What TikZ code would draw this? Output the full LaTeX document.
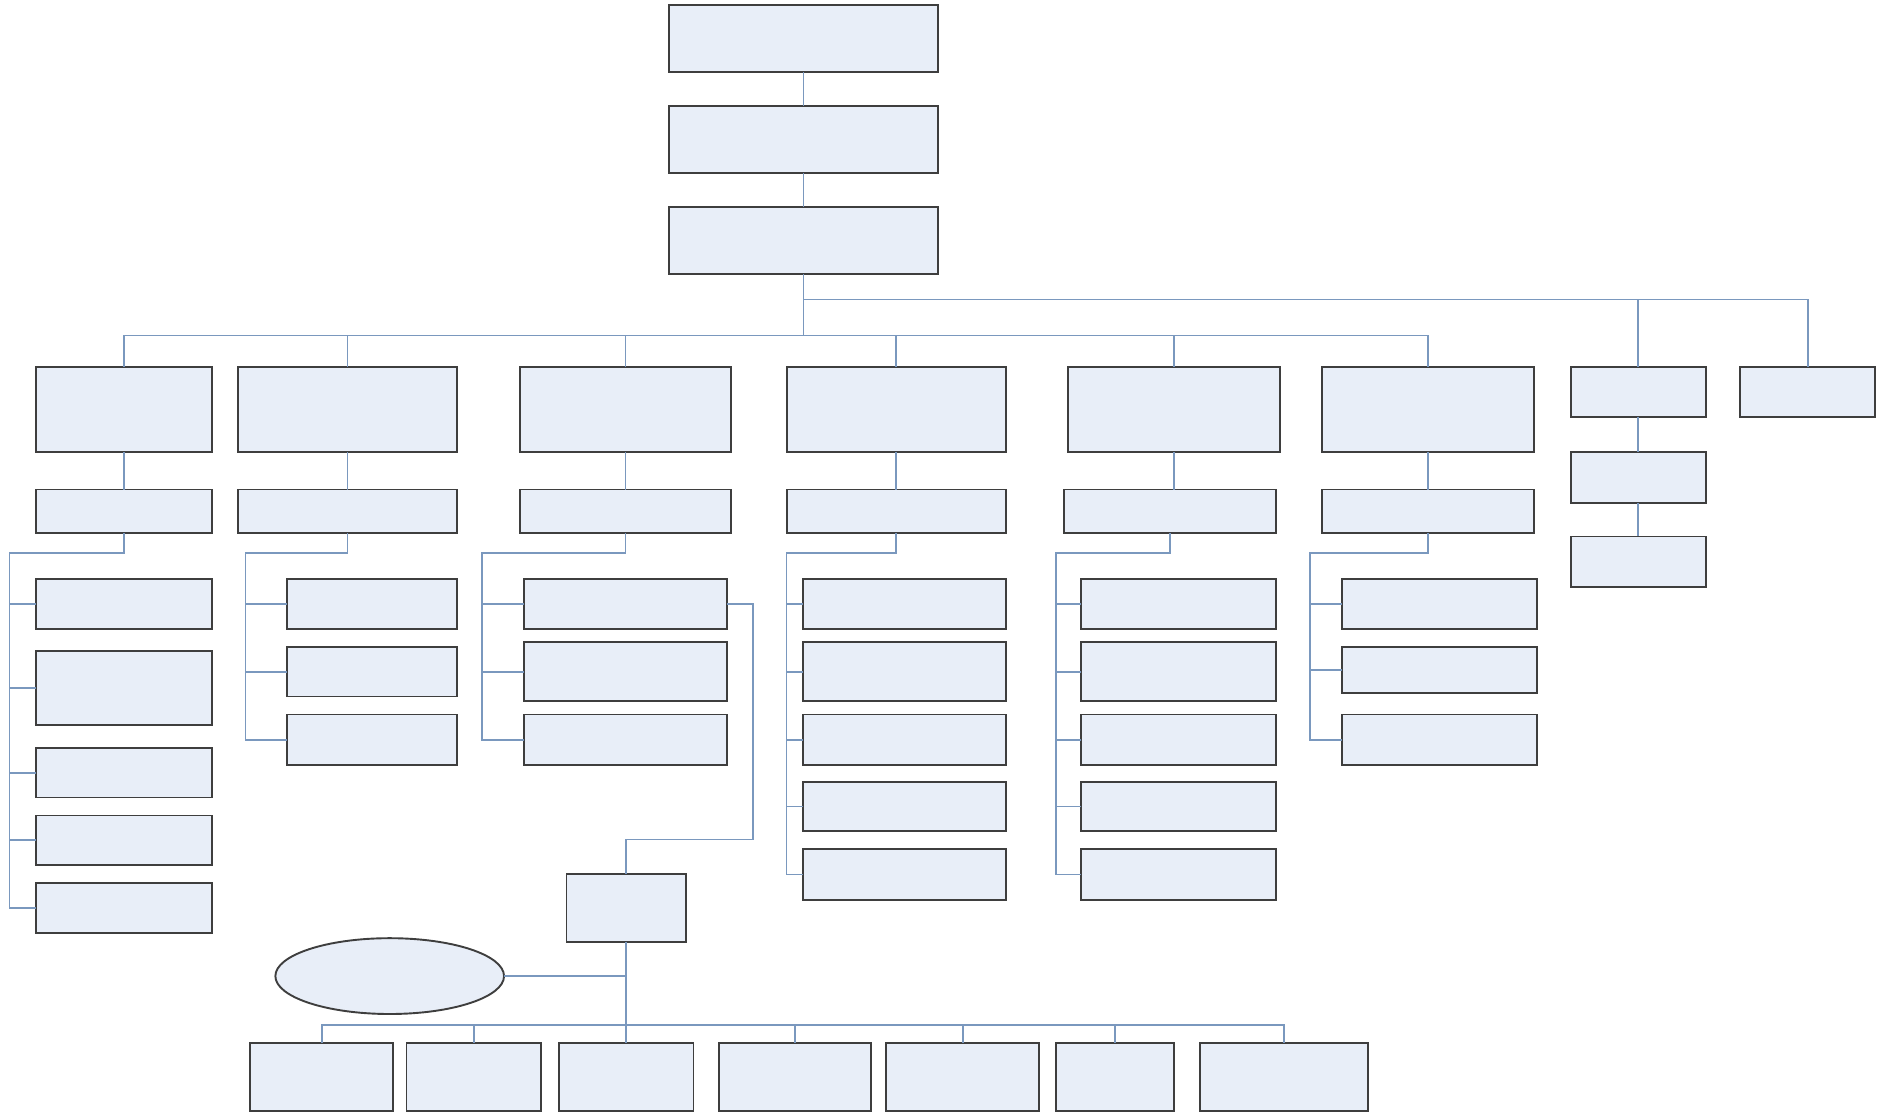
\documentclass[tikz,border=0pt]{standalone}
\usetikzlibrary{shapes.geometric}

\definecolor{boxfill}{RGB}{232,238,248}
\definecolor{boxline}{RGB}{62,62,62}
\definecolor{linkblue}{RGB}{122,152,190}

\begin{document}
\begin{tikzpicture}[
    x=0.01cm, y=-0.01cm,
    orgbox/.style={
        draw=boxline,
        line width=0.45pt,
        fill=boxfill,
        inner sep=0pt,
        outer sep=0pt
    },
    head/.style={orgbox, minimum width=2.24cm, minimum height=0.56cm},
    dept/.style={orgbox, minimum height=0.71cm},
    unit/.style={orgbox, minimum height=0.36cm},
    small/.style={orgbox, minimum width=1.12cm, minimum height=0.42cm},
    foot/.style={orgbox, minimum height=0.57cm},
    link/.style={draw=linkblue, line width=0.4pt}
]
    \useasboundingbox (0,0) rectangle (1568,926);

    % top chain
    \node[head] (lead) at (668,32) {};
    \node[head] (board) at (668,116) {};
    \node[head] (office) at (668,200) {};

    % departments
    \node[dept, minimum width=1.46cm] (deptA) at (103,340.5) {};
    \node[dept, minimum width=1.82cm] (deptB) at (289,340.5) {};
    \node[dept, minimum width=1.76cm] (deptC) at (520,340.5) {};
    \node[dept, minimum width=1.82cm] (deptD) at (745,340.5) {};
    \node[dept, minimum width=1.76cm] (deptE) at (976,340.5) {};
    \node[dept, minimum width=1.76cm] (deptF) at (1187,340.5) {};
    \node[small] (staffG) at (1362,326) {};
    \node[small] (staffH) at (1503,326) {};
    \node[small] (staffG2) at (1362,397) {};
    \node[small] (staffG3) at (1362,467) {};

    % units below departments
    \node[unit, minimum width=1.46cm] (unitA) at (103,425) {};
    \node[unit, minimum width=1.82cm] (unitB) at (289,425) {};
    \node[unit, minimum width=1.76cm] (unitC) at (520,425) {};
    \node[unit, minimum width=1.82cm] (unitD) at (745,425) {};
    \node[unit, minimum width=1.76cm] (unitE) at (973,425) {};
    \node[unit, minimum width=1.76cm] (unitF) at (1187,425) {};

    % leaves
    \foreach \i/\y/\h in {1/502/0.42, 2/572/0.62, 3/642.5/0.41, 4/698.5/0.41, 5/755/0.42}
        \node[orgbox, minimum width=1.46cm, minimum height=\h cm] (a\i) at (103,\y) {};
    \foreach \i/\y/\h in {1/502/0.42, 2/558.5/0.41, 3/615/0.42}
        \node[orgbox, minimum width=1.41cm, minimum height=\h cm] (b\i) at (309.5,\y) {};
    \foreach \i/\y/\h in {1/502/0.42, 2/558.5/0.49, 3/615/0.42}
        \node[orgbox, minimum width=1.68cm, minimum height=\h cm] (c\i) at (520,\y) {};
    \foreach \i/\y/\h in {1/502/0.42, 2/558.5/0.49, 3/615/0.42, 4/670.5/0.41, 5/727/0.42}
        \node[orgbox, minimum width=1.68cm, minimum height=\h cm] (d\i) at (752,\y) {};
    \foreach \i/\y/\h in {1/502/0.42, 2/558.5/0.49, 3/615/0.42, 4/670.5/0.41, 5/727/0.42}
        \node[orgbox, minimum width=1.62cm, minimum height=\h cm] (e\i) at (980,\y) {};
    \foreach \i/\y/\h in {1/502/0.42, 2/557/0.38, 3/615/0.42}
        \node[orgbox, minimum width=1.62cm, minimum height=\h cm] (f\i) at (1197,\y) {};

    % branch below c1
    \node[orgbox, minimum width=0.99cm, minimum height=0.56cm] (hub) at (520.5,755) {};
    \node[orgbox, ellipse, minimum width=1.90cm, minimum height=0.63cm] (council) at (324,811.5) {};

    % bottom row
    \node[foot, minimum width=1.19cm] (s1) at (267.5,895.5) {};
    \node[foot, minimum width=1.12cm] (s2) at (394,895.5) {};
    \node[foot, minimum width=1.12cm] (s3) at (520.5,895.5) {};
    \node[foot, minimum width=1.26cm] (s4) at (661,895.5) {};
    \node[foot, minimum width=1.27cm] (s5) at (800.5,895.5) {};
    \node[foot, minimum width=0.98cm] (s6) at (927,895.5) {};
    \node[foot, minimum width=1.39cm] (s7) at (1067.5,895.5) {};

    % connectors
    \coordinate (spine) at (668,279);
    \coordinate (spineR) at (668,249);
    \draw[link] (lead) -- (board);
    \draw[link] (board) -- (office);
    \draw[link] (office.south) -- (spine);
    \draw[link] (deptA.north) |- (spine) -| (deptF.north);
    \foreach \n in {deptB,deptC,deptD,deptE}
        \draw[link] (\n.north) -- (\n.north |- spine);
    \draw[link] (spineR) -| (staffH.north);
    \draw[link] (staffG.north) -- (staffG.north |- spineR);
    \draw[link] (staffG) -- (staffG2);
    \draw[link] (staffG2) -- (staffG3);

    \foreach \n in {A,B,C,D,E,F}
        \draw[link] (dept\n.south) -- (dept\n.south |- unit\n.north);

    \coordinate (busA) at (8,460);
    \coordinate (busB) at (204,460);
    \coordinate (busC) at (401,460);
    \coordinate (busD) at (654,460);
    \coordinate (busE) at (878,460);
    \coordinate (busF) at (1089,460);
    \draw[link] (unitA.south) |- (busA) |- (a5.west);
    \draw[link] (unitB.south) |- (busB) |- (b3.west);
    \draw[link] (unitC.south) |- (busC) |- (c3.west);
    \draw[link] (unitD.south) |- (busD) |- (d5.west);
    \draw[link] (unitE.south) |- (busE) |- (e5.west);
    \draw[link] (unitF.south) |- (busF) |- (f3.west);
    \foreach \c in {a1,a2,a3,a4}
        \draw[link] (\c.west) -- (\c.west -| busA);
    \foreach \c in {b1,b2}
        \draw[link] (\c.west) -- (\c.west -| busB);
    \foreach \c in {c1,c2}
        \draw[link] (\c.west) -- (\c.west -| busC);
    \foreach \c in {d1,d2,d3,d4}
        \draw[link] (\c.west) -- (\c.west -| busD);
    \foreach \c in {e1,e2,e3,e4}
        \draw[link] (\c.west) -- (\c.west -| busE);
    \foreach \c in {f1,f2}
        \draw[link] (\c.west) -- (\c.west -| busF);

    \coordinate (loopC) at (626,698);
    \draw[link] (c1.east) -| (loopC) -| (hub.north);

    \coordinate (busS) at (520.5,852);
    \draw[link] (hub.south) -- (busS);
    \draw[link] (council.east) -- (council.east -| hub.south);
    \draw[link] (s1.north) |- (busS) -| (s7.north);
    \foreach \n in {s2,s3,s4,s5,s6}
        \draw[link] (\n.north) -- (\n.north |- busS);
\end{tikzpicture}
\end{document}
